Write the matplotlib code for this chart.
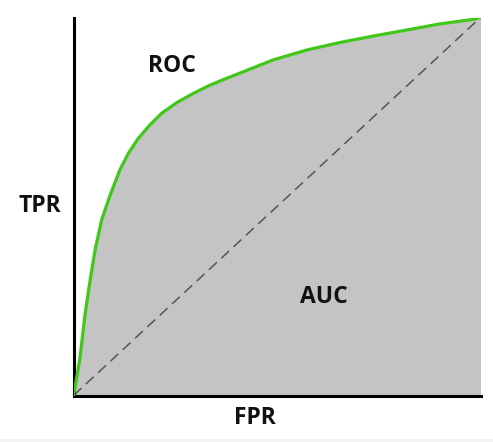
import numpy as np
import matplotlib
matplotlib.use("Agg")
import matplotlib.pyplot as plt
from matplotlib.patches import Rectangle

# ROC curve points (FPR, TPR)
fpr = [0.0, 0.006, 0.016, 0.028, 0.041, 0.053, 0.069, 0.090, 0.114, 0.135,
       0.159, 0.188, 0.217, 0.254, 0.294, 0.335, 0.376, 0.416, 0.491, 0.573,
       0.655, 0.737, 0.819, 0.900, 0.982, 1.0]
tpr = [0.0, 0.035, 0.100, 0.212, 0.306, 0.385, 0.464, 0.530, 0.597, 0.641,
       0.680, 0.716, 0.747, 0.775, 0.799, 0.821, 0.839, 0.856, 0.888, 0.914,
       0.934, 0.951, 0.967, 0.983, 0.995, 1.0]
chance = [0.0, 1.0]

fig = plt.figure(figsize=(4.93, 4.42), dpi=100)
fig.patch.set_facecolor("white")
# thin grey strip along the bottom of the screenshot
fig.patches.append(Rectangle((0, 0), 1, 3 / 442, transform=fig.transFigure,
                             facecolor="#f3f3f3", edgecolor="none"))

ax = fig.add_axes([73.5 / 493, 46.5 / 442, 407 / 493, 378 / 442])

ax.fill_between(fpr, tpr, 0, color="#c4c4c4", linewidth=0, zorder=1)
ax.plot(chance, chance, color="#555555", linewidth=1.1, dashes=(7, 4), zorder=2)
ax.plot(fpr, tpr, color="#3fc81a", linewidth=2.3, solid_capstyle="round",
        solid_joinstyle="round", zorder=3)

ax.set_xlim(0, 1)
ax.set_ylim(0, 1)
ax.set_xticks([])
ax.set_yticks([])
ax.spines[["top", "right"]].set_visible(False)
ax.spines[["left", "bottom"]].set_linewidth(2.2)
ax.spines[["left", "bottom"]].set_color("black")
ax.spines[["left", "bottom"]].set_capstyle("projecting")

font = dict(family="Open Sans", fontweight="bold", color="#111111", fontsize=16.5,
            ha="center", va="center")
fig.text(171.5 / 493, 1 - 65.5 / 442, "ROC", **font)
fig.text(39.5 / 493, 1 - 206 / 442, "TPR", **font)
fig.text(324 / 493, 1 - 297 / 442, "AUC", **font)
fig.text(255 / 493, 1 - 418 / 442, "FPR", **font)

fig.savefig("out.png", dpi=100, facecolor=fig.get_facecolor())
